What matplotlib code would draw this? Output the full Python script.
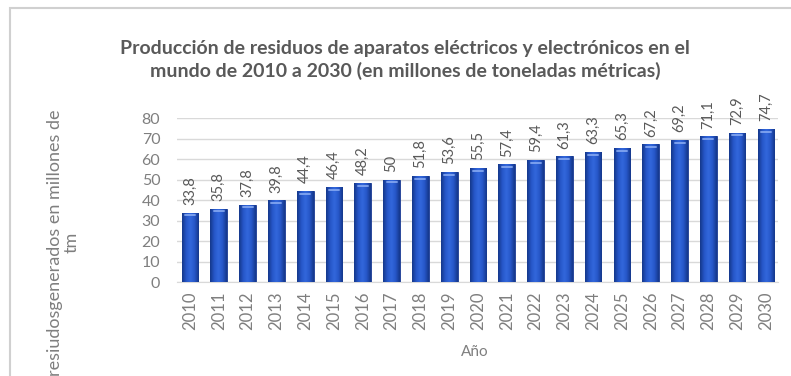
import numpy as np
import matplotlib
matplotlib.use("Agg")
import matplotlib.pyplot as plt
from matplotlib.patches import Rectangle
from matplotlib.colors import LinearSegmentedColormap

years = [str(y) for y in range(2010, 2031)]
values = [33.8, 35.8, 37.8, 39.8, 44.4, 46.4, 48.2, 50, 51.8, 53.6, 55.5,
          57.4, 59.4, 61.3, 63.3, 65.3, 67.2, 69.2, 71.1, 72.9, 74.7]
value_labels = ["33,8", "35,8", "37,8", "39,8", "44,4", "46,4", "48,2", "50",
                "51,8", "53,6", "55,5", "57,4", "59,4", "61,3", "63,3", "65,3",
                "67,2", "69,2", "71,1", "72,9", "74,7"]

title = ("Producción de residuos de aparatos eléctricos y electrónicos en el\n"
         "mundo de 2010 a 2030 (en millones de toneladas métricas)")
ylabel = "resiudosgenerados en millones de\ntm"
xlabel = "Año"

plt.rcParams["font.family"] = ["Lato", "DejaVu Sans"]
text_gray = "#7f7f7f"

fig = plt.figure(figsize=(7.91, 3.76), dpi=100)
fig.patches.append(Rectangle((0.0126, -0.01), 1.0, 0.99, transform=fig.transFigure,
                             fill=False, edgecolor="#d0d0d0", linewidth=1.5))

ax = fig.add_axes([0.2238, 0.25, 0.7598, 0.436])
x = np.arange(len(years))
bars = ax.bar(x, values, width=0.58, color="#2452c2", edgecolor="#1a3a90",
              linewidth=0.6, zorder=3)

# horizontal shading across each bar: darker edges, lighter middle
cmap = LinearSegmentedColormap.from_list(
    "barshade", ["#143789", "#2656c8", "#3368dc", "#2656c8", "#143789"])
grad = np.linspace(0, 1, 64).reshape(1, -1)
for b in bars:
    x0, w, h = b.get_x(), b.get_width(), b.get_height()
    im = ax.imshow(grad, cmap=cmap, aspect="auto", extent=(x0, x0 + w, 0, h),
                   zorder=3.5, interpolation="bicubic")
    im.set_clip_path(b)
    ax.plot([x0 + w * 0.2, x0 + w * 0.8], [h - 1.3, h - 1.3], color="#8fb0f5",
            lw=1.4, zorder=4, solid_capstyle="round", alpha=0.8)

for xi, v, lab in zip(x, values, value_labels):
    ax.text(xi, v + 3.8, lab, rotation=90, ha="center", va="bottom",
            fontsize=10.5, color="#595959")

ax.set_xlim(-0.45, 20.42)
ax.set_ylim(0, 80)
ax.set_yticks(range(0, 81, 10))
ax.set_xticks(x)
ax.set_xticklabels(years, rotation=90)
ax.tick_params(axis="both", length=0, colors=text_gray, labelsize=11.5)
ax.tick_params(axis="x", pad=7, labelsize=12)
ax.tick_params(axis="y", pad=12)
ax.grid(axis="y", color="#d9d9d9", linewidth=1.0, zorder=0)
for s in ["top", "right", "left"]:
    ax.spines[s].set_visible(False)
ax.spines["bottom"].set_color("#d9d9d9")

fig.text(0.512, 0.84, title, ha="center", va="center", fontsize=14,
         fontweight="bold", color="#595959", linespacing=1.3)
fig.text(0.08, 0.355, ylabel, rotation=90, ha="center", va="center",
         fontsize=13, color=text_gray, linespacing=1.1)
fig.text(0.6, 0.065, xlabel, ha="center", va="center", fontsize=11,
         color=text_gray)

fig.savefig("out.png", dpi=100)
